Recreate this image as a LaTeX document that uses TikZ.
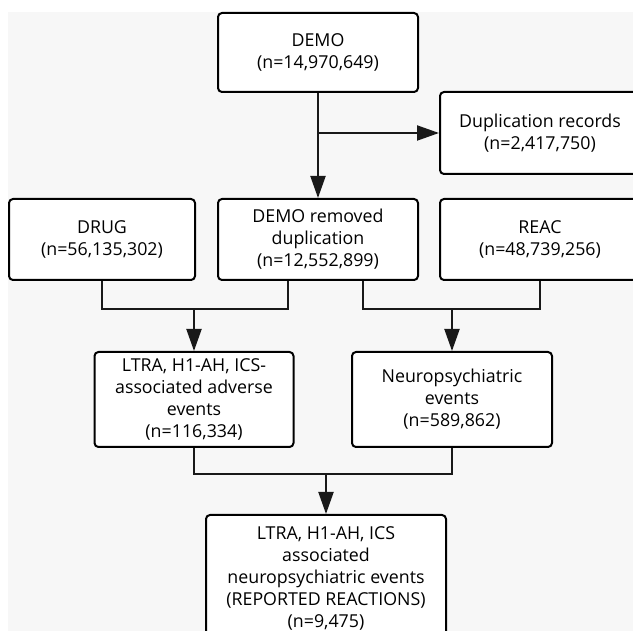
\documentclass[tikz,border=0pt]{standalone}
\usepackage{fontspec}
\setmainfont{Open Sans}
\usetikzlibrary{arrows.meta,calc}
\definecolor{bggray}{HTML}{F7F7F7}
\begin{document}
\begin{tikzpicture}[x=1pt,y=-1pt,
  box/.style={draw=black, line width=2pt, fill=white, rounded corners=4pt,
    align=center, inner sep=0pt, font=\fontsize{17.8}{22}\selectfont},
  conn/.style={line width=2pt, draw=black!90},
  arr/.style={conn, -{Triangle[length=22pt,width=15pt]}}]
\useasboundingbox (0,0) rectangle (633,631);
\fill[bggray] (8,12) rectangle (633,631);
\node[box, minimum width=200pt, minimum height=79pt] (demo) at (318,52.5) {DEMO\\(n=14,970,649)};
\node[box, minimum width=200pt, minimum height=82pt] (dup) at (540,133) {Duplication records\\(n=2,417,750)};
\node[box, minimum width=186pt, minimum height=81pt] (drug) at (102,239.5) {DRUG\\(n=56,135,302)};
\node[box, minimum width=200pt, minimum height=81pt] (demor) at (318,239.5) {DEMO removed\\duplication\\(n=12,552,899)};
\node[box, minimum width=200pt, minimum height=81pt] (reac) at (540,239.5) {REAC\\(n=48,739,256)};
\node[box, minimum width=199pt, minimum height=95pt] (ltra) at (194,399.5) {LTRA, H1-AH, ICS-\\associated adverse\\events\\(n=116,334)};
\node[box, minimum width=200pt, minimum height=95pt] (neuro) at (452,399.5) {Neuropsychiatric\\events\\(n=589,862)};
\node[box, minimum width=240pt, minimum height=126pt] (final) at (326,578) {LTRA, H1-AH, ICS\\associated\\neuropsychiatric events\\(REPORTED REACTIONS)\\(n=9,475)};
% DEMO -> removed, branch to duplication
\coordinate (b1) at (318,133);
\draw[arr] (demo.south) -- (demor.north);
\draw[arr] (b1) -- (dup.west);
% DRUG + DEMO removed -> LTRA
\coordinate (dl) at ([xshift=-30pt]demor.south);
\coordinate (dr) at ([xshift=45pt]demor.south);
\coordinate (j1) at (194,309);
\coordinate (j2) at (452,309);
\draw[conn] (drug.south) |- (j1) -| (dl);
\draw[arr] (j1) -- (ltra.north);
\draw[conn] (dr) |- (j2) -| (reac.south);
\draw[arr] (j2) -- (neuro.north);
% LTRA + Neuro -> final
\coordinate (j3) at (326,474);
\draw[conn] (ltra.south) |- (j3) -| (neuro.south);
\draw[arr] (j3) -- (final.north);
\end{tikzpicture}
\end{document}
